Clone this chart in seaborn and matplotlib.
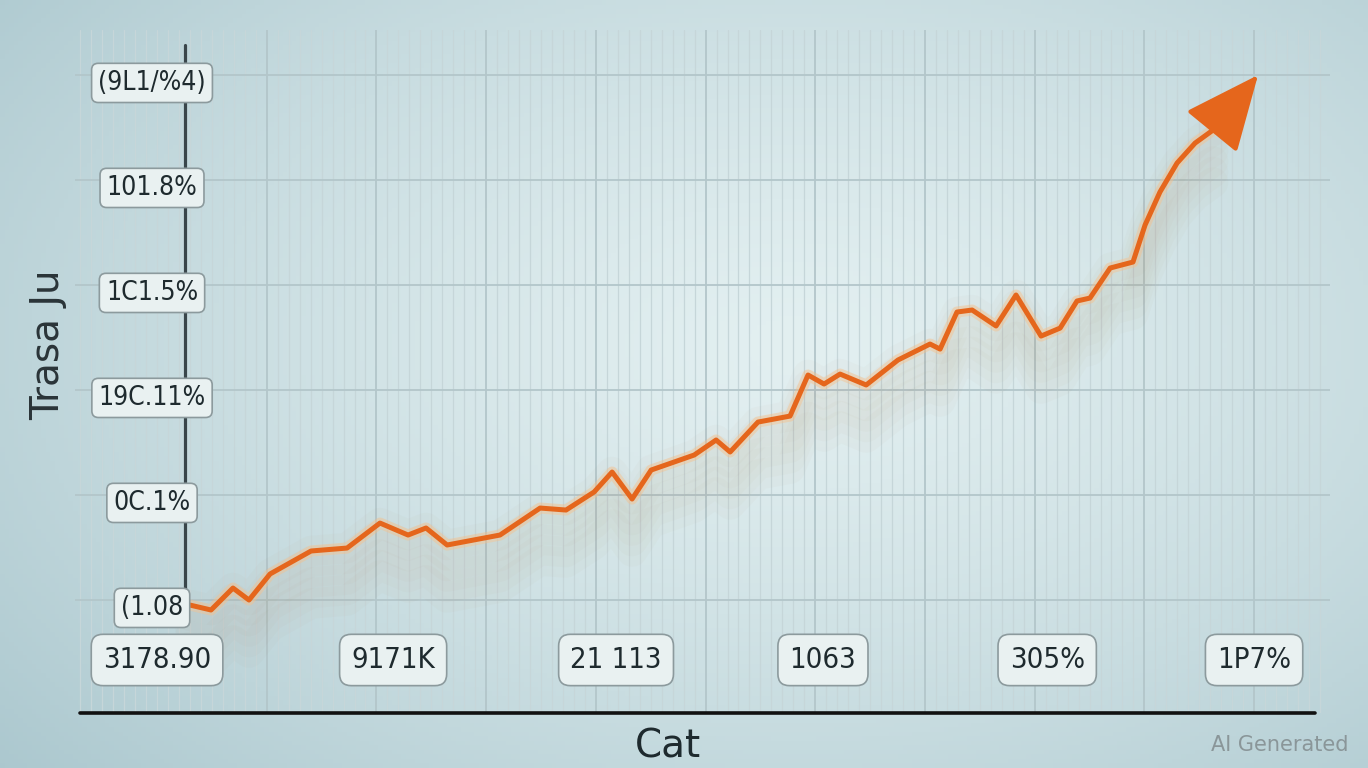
#!/usr/bin/env python3
"""Rising orange trend line with a glow, boxed tick labels and an arrow tip."""

import numpy as np
import matplotlib
matplotlib.use("Agg")
import matplotlib.pyplot as plt
import seaborn as sns

# ---- data ----
trend_x = [0.150, 0.246, 0.346, 0.419, 0.515, 0.702, 0.866, 1.016, 1.144, 1.226,
           1.322, 1.563, 1.746, 1.864, 1.992, 2.074, 2.165, 2.252, 2.448, 2.548,
           2.612, 2.739, 2.885, 2.967, 3.040, 3.113, 3.232, 3.377, 3.523, 3.569,
           3.646, 3.715, 3.824, 3.915, 4.029, 4.116, 4.193, 4.252, 4.344, 4.448,
           4.503, 4.571, 4.649, 4.731, 4.813]
trend_y = [-0.048, -0.095, 0.114, 0.000, 0.248, 0.467, 0.495, 0.733, 0.619, 0.686,
           0.524, 0.619, 0.876, 0.857, 1.029, 1.219, 0.962, 1.238, 1.381, 1.524,
           1.410, 1.695, 1.752, 2.143, 2.057, 2.152, 2.048, 2.286, 2.438, 2.390,
           2.743, 2.762, 2.610, 2.905, 2.514, 2.590, 2.848, 2.876, 3.162, 3.219,
           3.571, 3.886, 4.162, 4.352, 4.476]
arrow_tip = (5.018, 5.000)

x_tick_pos = [0.0, 1.076, 2.092, 3.035, 4.057, 5.0]
x_tick_labels = ["3178.90", "9171K", "21 113", "1063", "305%", "1P7%"]
y_tick_pos = [0, 1, 2, 3, 4, 5]
y_tick_labels = ["(1.08", "0C.1%", "19C.11%", "1C1.5%", "101.8%", "(9L1/%4)"]

LINE = "#e5661c"

sns.set_theme(style="whitegrid")
plt.rcParams["font.family"] = ["DejaVu Sans"]

fig = plt.figure(figsize=(13.68, 7.68), dpi=100)

# background gradient
bg = fig.add_axes([0, 0, 1, 1], zorder=-5)
gx, gy = np.meshgrid(np.linspace(0, 1, 300), np.linspace(0, 1, 170))
r = np.sqrt(((gx - 0.58) / 0.85) ** 2 + ((gy - 0.55) / 0.95) ** 2)
r = np.clip(r, 0, 1) ** 1.3
c_in = np.array([0.89, 0.94, 0.945])
c_out = np.array([0.64, 0.76, 0.79])
img = c_in[None, None, :] * (1 - r[..., None]) + c_out[None, None, :] * r[..., None]
bg.imshow(img, aspect="auto", extent=[0, 1, 0, 1], origin="lower")
bg.axis("off")

ax = fig.add_axes([75 / 1368, 55 / 768, 1255 / 1368, 683 / 768])
ax.set_facecolor("none")
ax.set_xlim(-0.374, 5.346)
ax.set_ylim(-1.076, 5.429)

# grid
ax.set_yticks(y_tick_pos)
ax.set_xticks(np.arange(0.5, 5.4, 0.5))
ax.set_xticks(np.arange(-0.35, 5.35, 0.05), minor=True)
ax.grid(True, which="major", axis="both", color="#b3c6ca", lw=1.3)
ax.grid(True, which="minor", axis="x", color="#c6d6d9", lw=0.9)
ax.tick_params(which="both", length=0, labelbottom=False, labelleft=False)
for s in ax.spines.values():
    s.set_visible(False)

# glow / shadow under the line
tx = np.array(trend_x)
ty = np.array(trend_y)
for k in range(6):
    ax.plot(tx, ty - 0.1 * k, color="#a87a4c", lw=22, alpha=0.028,
            solid_capstyle="round", zorder=2)
ax.plot(tx, ty, color="#f7c08a", lw=8, alpha=0.45, zorder=3)

sns.lineplot(x=trend_x, y=trend_y, ax=ax, color=LINE, lw=3.6, sort=False,
             zorder=4)
ax.annotate("", xy=arrow_tip, xytext=(trend_x[-1], trend_y[-1]),
            arrowprops=dict(arrowstyle="-|>,head_length=0.95,head_width=0.42",
                            mutation_scale=50, color=LINE, lw=3.0,
                            shrinkA=0, shrinkB=0), zorder=5)

# axis lines
ax.plot([0.128, 0.128], [-0.238, 5.286], color="#39464b", lw=2.3, zorder=6,
        clip_on=False)
ax.plot([-0.351, 5.278], [-1.076, -1.076], color="#111111", lw=2.6,
        zorder=6, clip_on=False)

box = dict(boxstyle="round,pad=0.25", fc="#e9f1f1", ec="#8c9a9d", lw=1.2)
for yp, lab in zip(y_tick_pos, y_tick_labels):
    ax.text(-0.023, yp - 0.075, lab, ha="center", va="center", fontsize=19,
            color="#1e2a2e", bbox=box, zorder=7, fontstretch="condensed")
for xp, lab in zip(x_tick_pos, x_tick_labels):
    ax.text(xp, -0.571, lab, ha="center", va="center", fontsize=21,
            color="#1e2a2e", bbox=dict(box, boxstyle="round,pad=0.4"),
            zorder=7, fontstretch="condensed")

fig.text(48 / 1368, 1 - 345 / 768, "Trasa Ju", rotation=90, ha="center",
         va="center", fontsize=28, color="#2a3438")
fig.text(668 / 1368, 1 - 746 / 768, "Cat", ha="center", va="center",
         fontsize=28, color="#1e2a2e")
fig.text(1280 / 1368, 1 - 745 / 768, "AI Generated", ha="center", va="center",
         fontsize=15, color="#8a9699")

fig.savefig("out.png", dpi=100)
plt.close(fig)
